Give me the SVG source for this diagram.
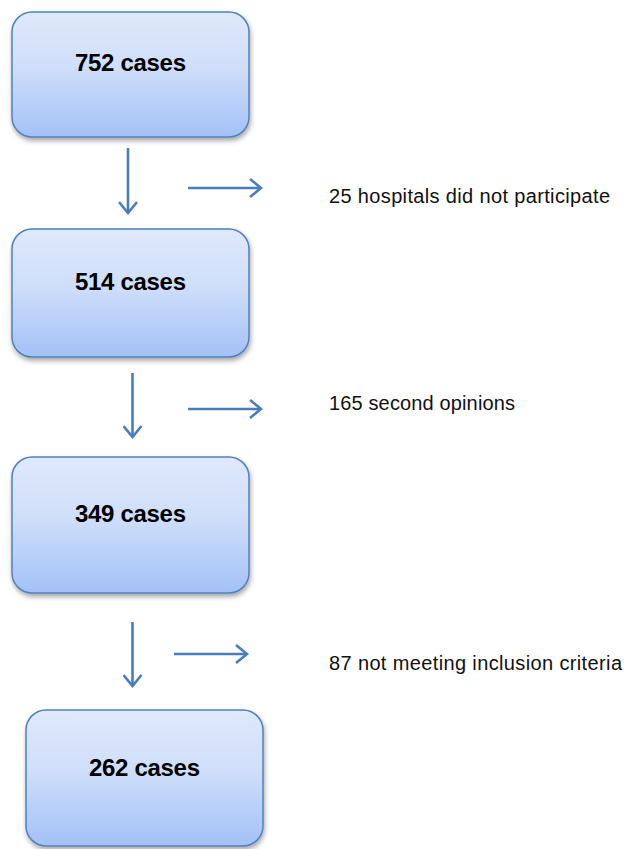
<svg xmlns="http://www.w3.org/2000/svg" width="627" height="849" viewBox="0 0 627 849">
<defs>
<linearGradient id="g" x1="0" y1="0" x2="0" y2="1">
<stop offset="0" stop-color="#dfe9fb"/>
<stop offset="0.45" stop-color="#cfdefa"/>
<stop offset="1" stop-color="#a3c1f7"/>
</linearGradient>
<filter id="sh" x="-10%" y="-10%" width="125%" height="130%">
<feDropShadow dx="1" dy="3" stdDeviation="2.5" flood-color="#000" flood-opacity="0.35"/>
</filter>
<marker id="ah" markerUnits="userSpaceOnUse" viewBox="0 0 14 20" markerWidth="14" markerHeight="20" refX="12" refY="10" orient="auto">
<path d="M1,1 L12,10 L1,19" fill="none" stroke="#4a7ebb" stroke-width="2.6"/>
</marker>
</defs>
<style>
.box{fill:url(#g);stroke:#4f81bd;stroke-width:1.5;filter:url(#sh)}
.lbl{font-family:"Liberation Sans",Arial,sans-serif;font-weight:bold;font-size:24px;fill:#000}
.note{font-family:"Liberation Sans",Arial,sans-serif;font-size:20px;fill:#111}
.con line{stroke:#4a7ebb;stroke-width:2.6;marker-end:url(#ah)}
</style>
<g id="n1"><rect class="box" x="12" y="12" width="237" height="125" rx="20"/><text class="lbl" x="75" y="71" textLength="111">752 cases</text></g>
<g id="n2"><rect class="box" x="12" y="229" width="237" height="128" rx="20"/><text class="lbl" x="75" y="290" textLength="111">514 cases</text></g>
<g id="n3"><rect class="box" x="12" y="457" width="237" height="136" rx="20"/><text class="lbl" x="75" y="522" textLength="111">349 cases</text></g>
<g id="n4"><rect class="box" x="26" y="710" width="237" height="136" rx="20"/><text class="lbl" x="89" y="776" textLength="111">262 cases</text></g>
<g id="t1"><text class="note" x="329" y="203" textLength="281">25 hospitals did not participate</text></g>
<g id="t2"><text class="note" x="329" y="410" textLength="186">165 second opinions</text></g>
<g id="t3"><text class="note" x="329" y="670" textLength="293">87 not meeting inclusion criteria</text></g>
<g id="connectors" class="con">
<line x1="128" y1="148" x2="128" y2="213"/>
<line x1="188" y1="188" x2="261" y2="188"/>
<line x1="132.5" y1="373" x2="132.5" y2="437"/>
<line x1="188" y1="409" x2="261" y2="409"/>
<line x1="132.5" y1="622" x2="132.5" y2="686"/>
<line x1="174" y1="654" x2="247" y2="654"/>
</g>
</svg>
